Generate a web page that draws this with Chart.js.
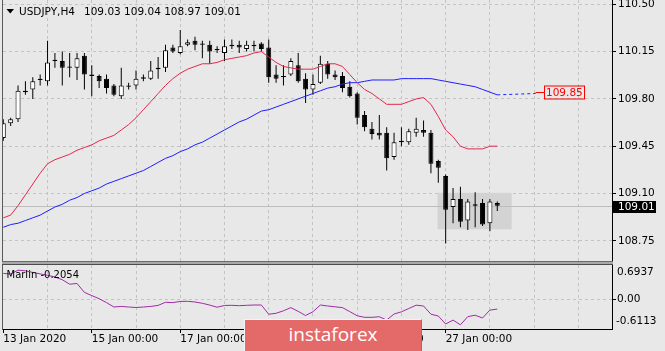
<!DOCTYPE html>
<html>
<head>
<meta charset="utf-8">
<title>USDJPY H4</title>
<script src="https://cdn.jsdelivr.net/npm/chart.js@4.4.1/dist/chart.umd.min.js"></script>
<style>
  html, body { margin: 0; padding: 0; background: #e8e8e8; }
  #wrap { position: relative; width: 665px; height: 351px; overflow: hidden; background: #e8e8e8; }
  canvas { position: absolute; left: 0; }
  #main { top: 0; }
  #sub { top: 263px; }
  .frame { position: absolute; background: #5a5a5a; width: 1px; left: 2px; }
  #sep { position: absolute; left: 2px; top: 261px; width: 611px; height: 4px; box-sizing: border-box;
         background: #a8a8a8; border-top: 1px solid #6c6c6c; border-bottom: 1px solid #4c4c4c; }
  #logo { position: absolute; left: 244px; top: 319px; width: 178px; height: 33px; box-sizing: border-box;
          background: #e46a6a; border: 1px solid #f5f5f5; border-right-color: #c75a5a;
          color: #fff; font: 19px "Open Sans", sans-serif; line-height: 29px; text-align: center; }
</style>
</head>
<body>
<div id="wrap">
  <canvas id="main" width="665" height="262"></canvas>
  <canvas id="sub" width="665" height="88"></canvas>
  <div class="frame" style="top:0;height:262px"></div>
  <div class="frame" style="top:265px;height:65px"></div>
  <div id="sep"></div>
  <div id="logo">instaforex</div>
</div>
<script>
// USDJPY H4, 13 Jan 2020 00:00 onwards, one entry per bar
const opens = [109.51,109.62,109.65,109.85,109.87,109.94,109.93,110.09,110.08,110.04,
  110.03,110.12,109.98,109.97,109.95,109.90,109.82,109.90,109.90,109.96,
  109.95,110.03,110.03,110.18,110.14,110.20,110.23,110.21,110.20,110.17,
  110.14,110.20,110.20,110.17,110.20,110.21,110.18,109.98,109.97,109.98,
  110.05,109.95,109.87,109.92,110.06,109.98,109.97,109.89,109.84,109.68,
  109.58,109.55,109.55,109.37,109.49,109.48,109.55,109.57,109.55,109.34,
  109.23,109.00,109.06,108.90,109.02,109.03,108.88,109.03];
const highs = [109.65,109.66,109.90,109.93,109.96,109.98,110.23,110.14,110.15,110.14,
  110.14,110.14,110.05,109.98,109.98,109.91,110.03,109.92,110.01,109.98,
  110.08,110.11,110.20,110.20,110.31,110.24,110.26,110.23,110.23,110.19,
  110.24,110.24,110.23,110.23,110.23,110.22,110.24,110.05,110.05,110.10,
  110.14,109.99,109.98,110.12,110.08,110.01,110.00,109.93,109.85,109.71,
  109.63,109.68,109.59,109.55,109.59,109.58,109.66,109.64,109.57,109.35,
  109.24,109.14,109.15,109.06,109.11,109.06,109.06,109.04];
const lows = [109.49,109.60,109.63,109.83,109.80,109.90,109.90,110.03,109.90,109.96,
  109.94,109.87,109.82,109.88,109.84,109.82,109.80,109.87,109.87,109.93,
  109.94,109.95,110.00,110.14,110.13,110.19,110.16,110.10,110.06,110.14,
  110.08,110.17,110.14,110.15,110.15,110.15,109.92,109.92,109.90,109.97,
  109.92,109.77,109.83,109.91,109.95,109.94,109.85,109.81,109.61,109.56,
  109.50,109.50,109.27,109.35,109.45,109.46,109.52,109.52,109.25,109.18,
  108.73,108.88,108.85,108.83,108.85,108.86,108.82,108.97];
const closes = [109.62,109.65,109.86,109.86,109.93,109.95,110.07,110.08,110.03,110.03,
  110.10,109.98,109.97,109.93,109.88,109.83,109.90,109.89,109.95,109.95,
  110.01,110.02,110.16,110.15,110.19,110.22,110.20,110.20,110.15,110.16,
  110.19,110.19,110.18,110.20,110.19,110.17,109.96,109.95,109.96,110.08,
  109.93,109.87,109.91,110.06,109.98,109.96,109.88,109.82,109.66,109.59,
  109.54,109.53,109.36,109.48,109.48,109.56,109.58,109.55,109.32,109.29,
  108.98,109.06,108.89,109.04,109.01,108.87,109.04,109.01];

const maRed = [108.92,108.94,109.01,109.09,109.17,109.25,109.32,109.35,109.37,109.39,
  109.42,109.44,109.46,109.49,109.51,109.53,109.57,109.61,109.66,109.72,
  109.78,109.84,109.90,109.95,109.99,110.02,110.04,110.06,110.06,110.07,
  110.09,110.10,110.11,110.12,110.14,110.15,110.11,110.07,110.04,110.03,
  110.02,110.02,110.02,110.04,110.06,110.06,110.04,109.98,109.92,109.87,
  109.84,109.80,109.76,109.76,109.76,109.78,109.80,109.81,109.76,109.67,
  109.57,109.52,109.45,109.43,109.43,109.43,109.45,109.45];
const maBlue = [108.85,108.87,108.88,108.90,108.92,108.94,108.97,109.00,109.02,109.05,
  109.07,109.10,109.12,109.14,109.17,109.19,109.21,109.23,109.25,109.27,
  109.30,109.33,109.36,109.38,109.41,109.43,109.46,109.48,109.51,109.54,
  109.57,109.60,109.63,109.65,109.68,109.71,109.72,109.74,109.76,109.78,
  109.80,109.82,109.84,109.86,109.88,109.89,109.91,109.92,109.92,109.93,
  109.94,109.94,109.94,109.94,109.95,109.95,109.95,109.95,109.95,109.94,
  109.93,109.92,109.91,109.90,109.89,109.87,109.85,109.83];
const marlin = [0.522,0.510,0.588,0.575,0.543,0.512,0.484,0.449,0.394,0.302,
  0.317,0.135,0.070,0.006,-0.073,-0.163,-0.151,-0.163,-0.173,-0.163,
  -0.151,-0.130,-0.067,-0.073,-0.049,-0.047,-0.061,-0.087,-0.124,-0.167,
  -0.132,-0.128,-0.136,-0.128,-0.122,-0.122,-0.310,-0.291,-0.240,-0.175,
  -0.252,-0.336,-0.259,-0.122,-0.142,-0.159,-0.175,-0.257,-0.342,-0.373,
  -0.373,-0.361,-0.428,-0.306,-0.261,-0.193,-0.126,-0.142,-0.310,-0.346,
  -0.509,-0.430,-0.526,-0.359,-0.330,-0.387,-0.226,-0.2054];

// blue MA projection and price tag, the grey box
const projBars = [67, 72.2];
const projPrices = [109.83, 109.84];
const tagBars = [72.2, 73.3];
const tagPrice = 109.85;
const rectBars = [58.9, 68.95];
const rectPrices = [108.835, 109.105];
const lastPrice = 109.01;

// axes
const priceTicks = [108.75, 109.10, 109.45, 109.80, 110.15, 110.50];
const marlinLevels = [0.6937, 0.00, -0.6113];
const gridBars = [0, 6, 12, 18, 24, 30, 36, 42, 48, 54, 60, 66, 72, 78];
const timeTickBars = [0, 12, 24, 36, 48, 60];
const timeTickLabels = ['13 Jan 2020', '15 Jan 00:00', '17 Jan 00:00', '21 Jan 00:00', '23 Jan 00:00', '27 Jan 00:00'];

const FONT = {family: '"DejaVu Sans", sans-serif', size: 10.5};
const FONT_CSS = '10.5px "DejaVu Sans", sans-serif';
const GRID = '#c3c3c3';
const X_MIN = -0.04, X_MAX = 82.56;

const idx = opens.map((_, i) => i);
const bodyColors = idx.map(i => closes[i] > opens[i] ? '#ffffff' : '#000000');

const xGridColor = c => (c.tick && c.tick.value === 0) ? 'rgba(0,0,0,0)' : GRID;

const mainOverlay = {
  id: 'mainOverlay',
  beforeDatasetsDraw(chart) {
    const {ctx, chartArea: a, scales: {x, y}} = chart;
    ctx.save();
    const x0 = x.getPixelForValue(rectBars[0]), x1 = x.getPixelForValue(rectBars[1]);
    const y0 = y.getPixelForValue(rectPrices[1]), y1 = y.getPixelForValue(rectPrices[0]);
    ctx.fillStyle = '#d3d3d3';
    ctx.fillRect(x0, y0, x1 - x0, y1 - y0);
    const yb = Math.round(y.getPixelForValue(lastPrice)) + 0.5;
    ctx.strokeStyle = '#bdbdbd';
    ctx.lineWidth = 1;
    ctx.beginPath(); ctx.moveTo(a.left, yb); ctx.lineTo(a.right, yb); ctx.stroke();
    ctx.restore();
  },
  afterDraw(chart) {
    const {ctx, chartArea: a, scales: {x, y}} = chart;
    const last = opens.length - 1;
    ctx.save();
    ctx.font = FONT_CSS;
    ctx.textBaseline = 'middle';
    // title
    ctx.fillStyle = '#000';
    ctx.beginPath(); ctx.moveTo(6.5, 9); ctx.lineTo(14, 9); ctx.lineTo(10.25, 13.5); ctx.closePath(); ctx.fill();
    ctx.fillText('USDJPY,H4', 19, 12);
    ctx.fillText([opens[last], highs[last], lows[last], closes[last]].map(v => v.toFixed(2)).join(' '), 84, 12);
    // bid tag
    const yb = Math.round(y.getPixelForValue(lastPrice));
    ctx.fillStyle = '#000';
    ctx.fillRect(a.right + 1, yb - 5, 43, 12);
    ctx.fillStyle = '#fff';
    ctx.fillText(lastPrice.toFixed(2), a.right + 6, yb + 1);
    // price tag 109.85
    const yt = Math.round(y.getPixelForValue(tagPrice)) + 0.5;
    const t0 = x.getPixelForValue(tagBars[0]), t1 = Math.round(x.getPixelForValue(tagBars[1])) + 0.5;
    ctx.strokeStyle = '#ff0000';
    ctx.lineWidth = 1;
    ctx.beginPath(); ctx.moveTo(t0, yt); ctx.lineTo(t1, yt); ctx.stroke();
    const txt = tagPrice.toFixed(2);
    const w = Math.ceil(ctx.measureText(txt).width) + 3;
    ctx.strokeRect(t1, yt - 6.5, w, 13);
    ctx.fillStyle = '#ff0000';
    ctx.fillText(txt, t1 + 1.5, yt + 0.5);
    ctx.restore();
  }
};

new Chart(document.getElementById('main'), {
  type: 'bar',
  data: {
    datasets: [
      {type: 'line', label: 'MA fast', data: idx.map(i => ({x: i, y: maRed[i]})),
       borderColor: '#e3284c', borderWidth: 1, pointRadius: 0, tension: 0, order: -2},
      {type: 'line', label: 'MA slow', data: idx.map(i => ({x: i, y: maBlue[i]})),
       borderColor: '#1e1eff', borderWidth: 1, pointRadius: 0, tension: 0, order: -2},
      {type: 'line', label: 'projection', data: projBars.map((b, k) => ({x: b, y: projPrices[k]})),
       borderColor: '#1e1eff', borderWidth: 1, borderDash: [3, 3], pointRadius: 0, order: -2},
      {label: 'body', data: idx.map(i => ({x: i, y: [opens[i], closes[i]]})),
       backgroundColor: bodyColors, borderColor: '#000', borderWidth: 1, borderSkipped: false,
       maxBarThickness: 5, minBarLength: 1, inflateAmount: 0, grouped: false, order: 0},
      {label: 'wick', data: idx.map(i => ({x: i, y: [lows[i], highs[i]]})),
       backgroundColor: '#000', borderWidth: 0, maxBarThickness: 1, inflateAmount: 0, grouped: false, order: 1}
    ]
  },
  options: {
    responsive: false, animation: false, events: [],
    layout: {padding: {left: 3, top: 0, right: 0, bottom: 0}},
    plugins: {legend: {display: false}, tooltip: {enabled: false}},
    scales: {
      x: {
        type: 'linear', min: X_MIN, max: X_MAX, offset: false,
        afterBuildTicks: s => { s.ticks = gridBars.map(v => ({value: v})); },
        afterFit: s => { s.paddingLeft = 0; s.paddingRight = 0; },
        ticks: {display: false},
        grid: {offset: false, drawTicks: false, color: xGridColor},
        border: {display: false, dash: [3, 3]}
      },
      y: {
        position: 'right', min: 108.593, max: 110.532,
        afterBuildTicks: s => { s.ticks = priceTicks.map(v => ({value: v})); },
        afterFit: s => { s.width = 53; s.paddingTop = 0; s.paddingBottom = 0; },
        ticks: {color: '#000', font: FONT, padding: 2, autoSkip: false, callback: v => Number(v).toFixed(2)},
        grid: {color: GRID, drawTicks: true, tickLength: 4, tickColor: '#000'},
        border: {display: true, color: '#000', width: 1, dash: [3, 3]}
      }
    }
  },
  plugins: [mainOverlay]
});

const subOverlay = {
  id: 'subOverlay',
  afterDraw(chart) {
    const {ctx, chartArea: a, scales: {y}} = chart;
    ctx.save();
    ctx.font = FONT_CSS;
    ctx.textBaseline = 'middle';
    ctx.fillStyle = '#000';
    ctx.fillText(marlinLevels[0].toFixed(4), a.right + 5, a.top + 7.7);
    ctx.fillText(marlinLevels[1].toFixed(2), a.right + 5, y.getPixelForValue(marlinLevels[1]) + 0.5);
    ctx.fillText(marlinLevels[2].toFixed(4), a.right + 4, a.bottom - 7.3);
    ctx.font = '10px "DejaVu Sans", sans-serif';
    ctx.fillText('Marlin ' + marlin[marlin.length - 1].toFixed(4), 6.5, a.top + 10);
    ctx.restore();
  }
};

new Chart(document.getElementById('sub'), {
  type: 'line',
  data: {
    datasets: [
      {label: 'Marlin', data: idx.map(i => ({x: i, y: marlin[i]})),
       borderColor: '#a12aa5', borderWidth: 1, pointRadius: 0, tension: 0}
    ]
  },
  options: {
    responsive: false, animation: false, events: [],
    layout: {padding: {left: 3, top: 2, right: 0, bottom: 0}},
    plugins: {legend: {display: false}, tooltip: {enabled: false}},
    scales: {
      x: {
        type: 'linear', min: X_MIN, max: X_MAX, offset: false,
        afterBuildTicks: s => { s.ticks = gridBars.map(v => ({value: v})); },
        afterFit: s => { s.height = 22; s.paddingLeft = 0; s.paddingRight = 0; },
        ticks: {
          color: '#000', font: FONT, padding: 0, align: 'start', maxRotation: 0, autoSkip: false,
          callback: v => { const k = timeTickBars.indexOf(v); return k >= 0 ? timeTickLabels[k] : ''; }
        },
        grid: {
          offset: false, color: xGridColor, drawTicks: true, tickLength: 4,
          tickColor: c => (c.tick && timeTickBars.includes(c.tick.value)) ? '#000' : 'rgba(0,0,0,0)'
        },
        border: {display: true, color: '#000', width: 1, dash: [3, 3]}
      },
      y: {
        position: 'right', min: marlinLevels[2], max: marlinLevels[0],
        afterBuildTicks: s => { s.ticks = [{value: 0}]; },
        afterFit: s => { s.width = 53; s.paddingTop = 0; s.paddingBottom = 0; },
        ticks: {display: false},
        grid: {color: GRID, drawTicks: true, tickLength: 4, tickColor: '#000'},
        border: {display: true, color: '#000', width: 1, dash: [3, 3]}
      }
    }
  },
  plugins: [subOverlay]
});
</script>
</body>
</html>
